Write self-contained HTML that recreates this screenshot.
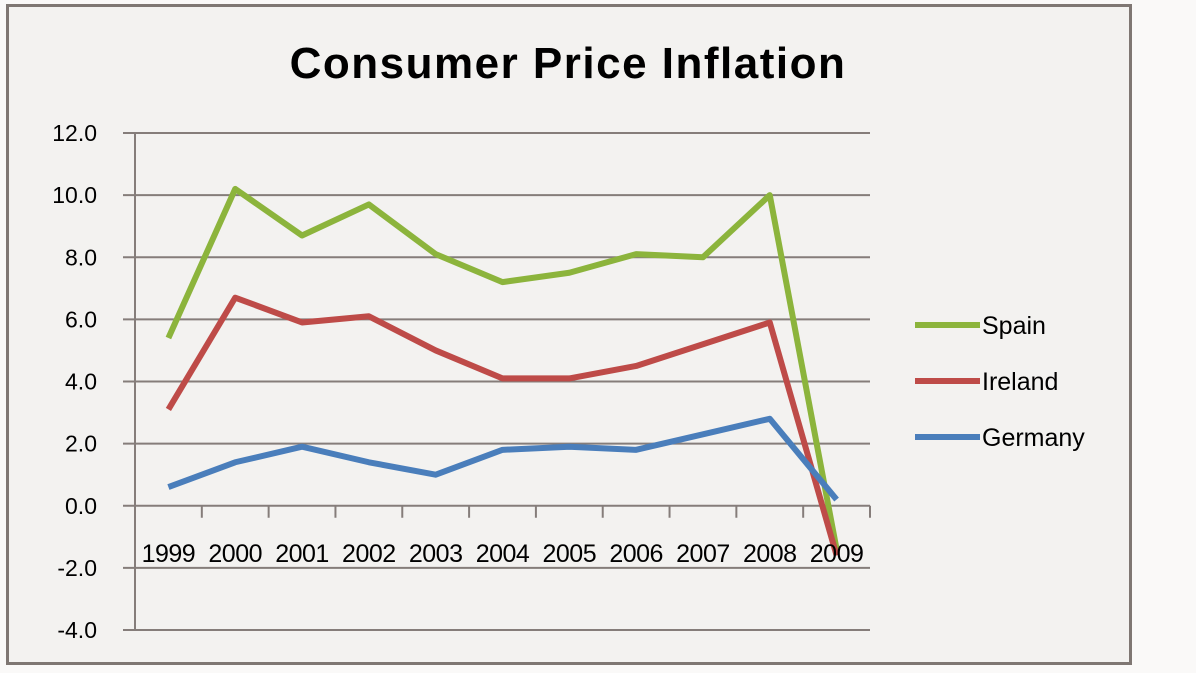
<!DOCTYPE html>
<html><head><meta charset="utf-8"><style>
html,body{margin:0;padding:0;background:#faf9f8;}
svg{display:block;font-family:"Liberation Sans",sans-serif;}
</style></head><body>
<svg id="chart" width="1196" height="673" viewBox="0 0 1196 673">
<rect x="7.5" y="5.5" width="1123" height="658" fill="#f3f2f0" stroke="#7f7773" stroke-width="3"/>
<text x="568" y="78" text-anchor="middle" font-size="44" font-weight="bold" letter-spacing="1.5" fill="#000">Consumer Price Inflation</text>
<g id="grid"></g><g id="series"></g><g id="labels"></g><g id="legend"></g>
</svg>
<script>
const categories=["1999","2000","2001","2002","2003","2004","2005","2006","2007","2008","2009"];
const spain=[5.4,10.2,8.7,9.7,8.1,7.2,7.5,8.1,8.0,10.0,-1.4];
const ireland=[3.1,6.7,5.9,6.1,5.0,4.1,4.1,4.5,5.2,5.9,-1.6];
const germany=[0.6,1.4,1.9,1.4,1.0,1.8,1.9,1.8,2.3,2.8,0.2];
const yTicks=[12,10,8,6,4,2,0,-2,-4];
const seriesNames=["Spain","Ireland","Germany"];
const seriesColors=["#8cb43c","#be4b48","#4a7ebb"];
const NS="http://www.w3.org/2000/svg";
const x0=135,x1=870,yTop=133,yBot=630;
const yMin=-4,yMax=12;
const y=v=>yBot-(v-yMin)/(yMax-yMin)*(yBot-yTop);
const bw=(x1-x0)/categories.length;
const x=i=>x0+bw*(i+0.5);
function mk(tag,attrs,parent){const e=document.createElementNS(NS,tag);for(const k in attrs)e.setAttribute(k,attrs[k]);parent.appendChild(e);return e;}
const grid=document.getElementById('grid'),ser=document.getElementById('series'),lab=document.getElementById('labels'),leg=document.getElementById('legend');
yTicks.forEach(t=>{
  const l=mk('line',{x1:123,x2:x1,y1:y(t),y2:y(t),stroke:'#857d7a','stroke-width':2},grid);
  
  
  const tx=mk('text',{x:97,y:y(t)+8,'text-anchor':'end','font-size':23,fill:'#000'},lab);
  tx.textContent=t.toFixed(1);
  
  
});
const ax=mk('line',{x1:x0,x2:x0,y1:yTop,y2:yBot,stroke:'#857d7a','stroke-width':2},grid);


for(let i=0;i<=categories.length;i++){
  const tk=mk('line',{x1:x0+bw*i,x2:x0+bw*i,y1:y(0),y2:y(0)+12,stroke:'#857d7a','stroke-width':2},grid);
  
  
}
[spain,ireland,germany].forEach((d,s)=>{
  const p=mk('polyline',{points:d.map((v,i)=>x(i)+','+y(v)).join(' '),fill:'none',stroke:seriesColors[s],'stroke-width':6,'stroke-linejoin':'round'},ser);
  
  
  const ly=325+s*56;
  const ll=mk('line',{x1:915,x2:980,y1:ly,y2:ly,stroke:seriesColors[s],'stroke-width':6},leg);
  
  
  const lt=mk('text',{x:982,y:ly+9,'font-size':25,fill:'#000'},leg);
  lt.textContent=seriesNames[s];
  
  
});
categories.forEach((c,i)=>{
  const t=mk('text',{x:x(i),y:562,'text-anchor':'middle','font-size':25,'letter-spacing':'-0.5',fill:'#000'},lab);
  t.textContent=c;
  
  
});
</script>
</body></html>
